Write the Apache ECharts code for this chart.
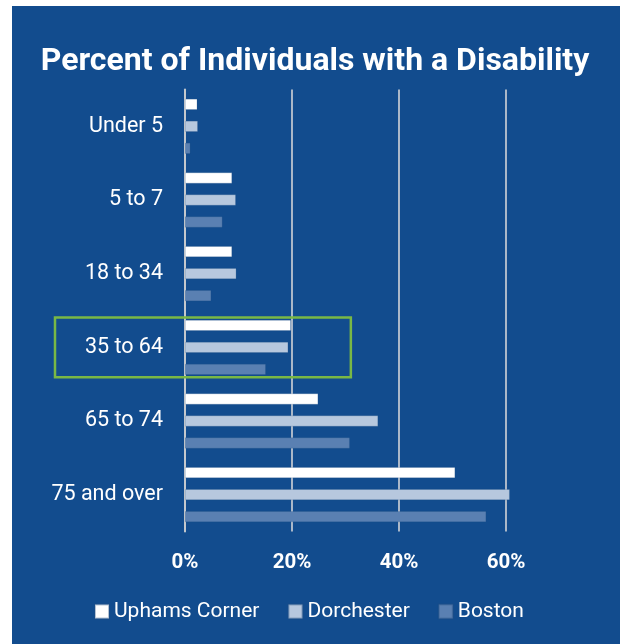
<!DOCTYPE html>
<html>
<head>
<meta charset="utf-8">
<script src="https://cdn.jsdelivr.net/npm/echarts@6/dist/echarts.min.js"></script>
<style>
  html, body { margin: 0; padding: 0; background: #ffffff; }
  #chart { width: 620px; height: 644px; }
</style>
</head>
<body>
<div id="chart"></div>
<script>
// Age groups, top to bottom
const categories = ['Under 5', '5 to 7', '18 to 34', '35 to 64', '65 to 74', '75 and over'];

// Percent of individuals with a disability, by area
const uphamsCorner = [2.3, 8.8, 8.8, 19.8, 24.9, 50.5];
const dorchester   = [2.4, 9.5, 9.6, 19.3, 36.1, 60.7];
const boston       = [1.0, 7.0, 4.9, 15.1, 30.8, 56.3];

const seriesNames = ['Uphams Corner', 'Dorchester', 'Boston'];
const xTicks = [0, 20, 40, 60];

// Highlighted age group
const highlightCategory = '35 to 64';
const highlightToValue = 31;

const FONT = 'Roboto, "Noto Sans", sans-serif';
const PANEL = '#124c8e';
const COLORS = ['#ffffff', '#b7c8de', '#5a80b2'];

const chart = echarts.init(document.getElementById('chart'), null, { renderer: 'canvas' });

function barSeries(name, data, color) {
  return {
    name: name,
    type: 'bar',
    data: data,
    barWidth: 11,
    barGap: '100%',
    clip: false,
    itemStyle: { color: color, borderColor: 'rgba(40,80,130,0.35)', borderWidth: 0.6 },
    emphasis: { disabled: true }
  };
}

chart.setOption({
  animation: false,
  backgroundColor: '#ffffff',
  graphic: [{
    type: 'rect',
    id: 'panel',
    z: -10,
    silent: true,
    shape: { x: 12, y: 6, width: 620, height: 650 },
    style: { fill: PANEL }
  }],
  title: {
    text: 'Percent of Individuals with a Disability',
    left: 310,
    textAlign: 'center',
    top: 41,
    textStyle: { color: '#ffffff', fontFamily: FONT, fontWeight: 'bold', fontSize: 32 }
  },
  legend: {
    data: seriesNames,
    bottom: 17,
    left: 89,
    itemWidth: 14,
    itemHeight: 14,
    itemGap: 28,
    icon: 'rect',
    textStyle: { color: '#ffffff', fontFamily: FONT, fontSize: 21, padding: [0, 0, 0, 0] }
  },
  grid: { left: 185, right: 114, top: 89.5, bottom: 112.5, containLabel: false },
  xAxis: {
    type: 'value',
    min: xTicks[0],
    max: xTicks[xTicks.length - 1],
    interval: 20,
    axisLine: { show: false },
    axisTick: { show: false },
    axisLabel: {
      color: '#ffffff', fontFamily: FONT, fontWeight: 'bold', fontSize: 20.5, margin: 21,
      formatter: function (v) { return v + '%'; }
    },
    splitLine: { show: true, lineStyle: { color: '#d2d4d8', width: 1.6 } }
  },
  yAxis: {
    type: 'category',
    data: categories,
    inverse: true,
    axisLine: { show: true, lineStyle: { color: '#c4c8cd', width: 2 } },
    axisTick: { show: false },
    axisLabel: { color: '#ffffff', fontFamily: FONT, fontSize: 21.5, margin: 22, padding: [7, 0, 0, 0] }
  },
  series: [
    barSeries(seriesNames[0], uphamsCorner, COLORS[0]),
    barSeries(seriesNames[1], dorchester, COLORS[1]),
    barSeries(seriesNames[2], boston, COLORS[2])
  ]
});

// Outline box around the highlighted age group, placed from the axes
const cy = chart.convertToPixel({ yAxisIndex: 0 }, highlightCategory);
const band = chart.convertToPixel({ yAxisIndex: 0 }, categories[1]) - chart.convertToPixel({ yAxisIndex: 0 }, categories[0]);
const xRight = chart.convertToPixel({ xAxisIndex: 0 }, highlightToValue);
const halfH = band * 0.405;
chart.setOption({
  graphic: [{
    type: 'rect',
    id: 'highlight',
    z: 100,
    silent: true,
    shape: { x: 55, y: cy - halfH, width: xRight - 55, height: halfH * 2 },
    style: { fill: 'none', stroke: '#79b845', lineWidth: 2.5 }
  }]
});
</script>
</body>
</html>
